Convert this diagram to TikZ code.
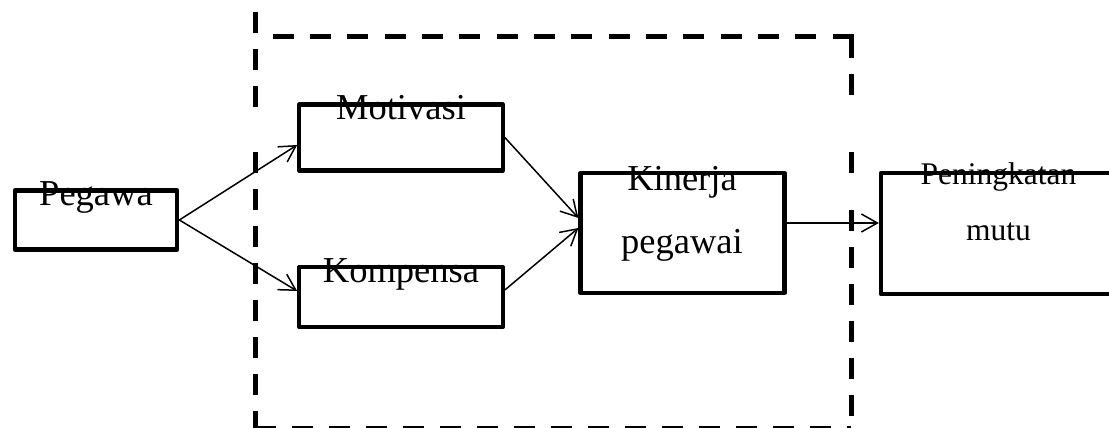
\documentclass[tikz,border=0pt]{standalone}
\usepackage{fontspec}
\setmainfont{Liberation Serif}
\usetikzlibrary{arrows.meta,calc}
\begin{document}
\begin{tikzpicture}[x=1pt,y=-1pt,
  box/.style={draw, line width=4.2pt, line join=round, inner sep=0pt},
  lbl/.style={anchor=base, inner sep=0pt, font=\fontsize{36.5}{40}\selectfont},
  lblsmall/.style={anchor=base, inner sep=0pt, font=\fontsize{31.5}{36}\selectfont},
  conn/.style={line width=1.5pt, -{Straight Barb[length=16pt,width=18pt,line width=1.5pt]}},
  frame/.style={line width=5pt, dash pattern=on 21pt off 16pt},
  frametop/.style={line width=5pt, dash pattern=on 21pt off 16.33pt}]
\useasboundingbox (0,0) rectangle (1109,428);
\clip (0,0) rectangle (1109,428);

% dashed frame
\draw[frame] (255,12) -- (255,107);
\draw[frame] (255,152) -- (255,428.5);
\draw[frame] (255,428.5) -- (851,428.5);
\draw[frametop] (853.5,37) -- (270,37);
\draw[frame] (851,37) -- (851,100);
\draw[frame] (851,152) -- (851,173);
\draw[frame] (851,210) -- (851,428.5);

% boxes
\node[box, minimum width=162.5pt, minimum height=59pt] (peg) at (96,220) {};
\node[box, minimum width=203.5pt, minimum height=66pt] (mot) at (401,137.5) {};
\node[box, minimum width=203.5pt, minimum height=60pt] (kom) at (401,297) {};
\node[box, minimum width=204pt, minimum height=120pt] (kin) at (682.5,233) {};
\node[box, minimum width=235pt, minimum height=121pt] (pen) at (998.5,233.5) {};

% labels
\node[lbl] (pegt) at (96,205) {Pegawa};
\node[lbl] (mott) at (401,119) {Motivasi};
\node[lbl] (komt) at (401,282) {Kompensa};
\node[lbl] (kint1) at (682,190) {Kinerja};
\node[lbl] (kint2) at (682,253) {pegawai};
\node[lblsmall] (pent1) at (998.5,184) {Peningkatan};
\node[lblsmall] (pent2) at (998.5,240) {mutu};

% connectors
\draw[conn] (peg.east) -- ($(mot.west)+(0,7.5)$);
\draw[conn] (peg.east) -- ($(kom.west)+(0,-6)$);
\draw[conn] (mot.east) -- ($(kin.west)+(0,-15)$);
\draw[conn] ($(kom.east)+(0,-7)$) -- ($(kin.west)+(0,-5)$);
\draw[conn] ($(kin.east)+(0,-10)$) -- ($(pen.west)+(0,-10.5)$);
\end{tikzpicture}
\end{document}
